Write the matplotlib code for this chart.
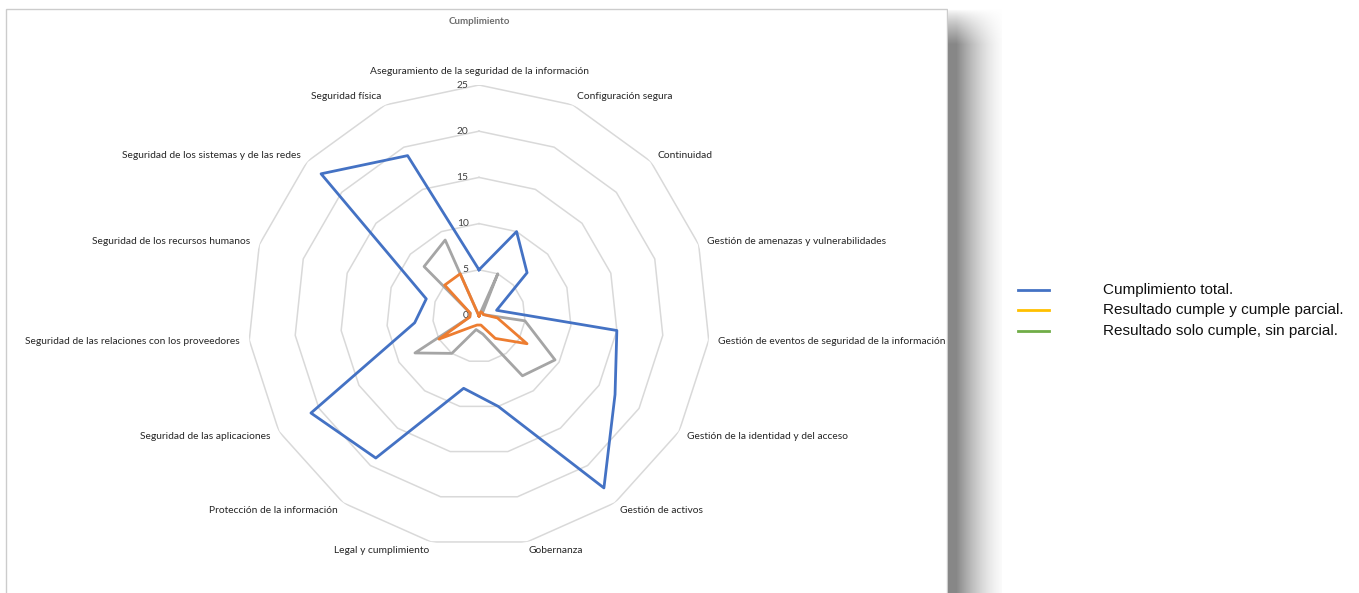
import numpy as np
import matplotlib
matplotlib.use("Agg")
import matplotlib.pyplot as plt
from matplotlib.lines import Line2D
from matplotlib.patches import Rectangle
from matplotlib.transforms import Bbox, TransformedBbox

# categorías del radar (en sentido horario desde arriba)
categorias = [
    "Aseguramiento de la seguridad de la información",
    "Configuración segura",
    "Continuidad",
    "Gestión de amenazas y vulnerabilidades",
    "Gestión de eventos de seguridad de la información",
    "Gestión de la identidad y del acceso",
    "Gestión de activos",
    "Gobernanza",
    "Legal y cumplimiento",
    "Protección de la información",
    "Seguridad de las aplicaciones",
    "Seguridad de las relaciones con los proveedores",
    "Seguridad de los recursos humanos",
    "Seguridad de los sistemas y de las redes",
    "Seguridad física",
]

# series
cumplimiento_total = [5, 10, 7, 2, 15, 17, 23, 10, 8, 19, 21, 7, 6, 23, 19]
cumple_y_parcial = [0, 0.5, 0.5, 0.5, 2, 6, 3, 1, 1, 1.5, 5, 1, 1, 5, 5]
solo_cumple = [0, 5, 0.5, 0.5, 5, 9.5, 8, 2, 1.5, 5, 8, 1, 1, 8, 9]

niveles = [0, 5, 10, 15, 20, 25]

leyenda_textos = [
    "Cumplimiento total.",
    "Resultado cumple y cumple parcial.",
    "Resultado solo cumple, sin parcial.",
]
leyenda_colores = ["#4472C4", "#FFC000", "#70AD47"]

W, H = 1359, 593
fig = plt.figure(figsize=(W / 100, H / 100), dpi=100)
fig.patch.set_facecolor("white")

# marco del área del gráfico
fig.add_artist(Rectangle((6 / W, -0.05), (947 - 6) / W, (H - 9) / H + 0.05,
                         transform=fig.transFigure, facecolor="white",
                         edgecolor="#cccccc", linewidth=1, zorder=0))

# sombra a la derecha del área del gráfico
sh = fig.add_axes([948 / W, 0, 54 / W, (H - 9) / H])
u = np.linspace(0, 1, 54)
v = np.clip(np.linspace(0, 585, 585) / 35.0, 0, 1) ** 0.8
prof = np.clip(1.15 - u, 0, 1) ** 1.7
prof = prof / prof.max()
g = 1 - 0.47 * np.outer(v, prof)
sh.imshow(np.dstack([g, g, g]), aspect="auto", interpolation="bilinear")
sh.axis("off")

# radar
cx, cy, R = 479, 316, 231
ax = fig.add_axes([(cx - R) / W, (H - cy - R) / H, 2 * R / W, 2 * R / H],
                  projection="polar")
ax.set_theta_offset(np.pi / 2)
ax.set_theta_direction(-1)
ax.set_ylim(0, 25)
ax.grid(False)
ax.set_xticks([])
ax.set_yticks([])
ax.spines["polar"].set_visible(False)
ax.patch.set_alpha(0)

n = len(categorias)
ang = np.linspace(0, 2 * np.pi, n, endpoint=False)
ang_c = np.append(ang, ang[0])

for nv in niveles[1:]:
    ax.plot(ang_c, [nv] * (n + 1), color="#d9d9d9", lw=1.1, zorder=1)

ax.plot(ang_c, solo_cumple + solo_cumple[:1], color="#A5A5A5", lw=2, zorder=3)
ax.plot(ang_c, cumple_y_parcial + cumple_y_parcial[:1], color="#ED7D31", lw=2, zorder=4)
ax.plot(ang_c, cumplimiento_total + cumplimiento_total[:1], color="#4472C4", lw=2, zorder=5)

fuente = "Lato"
for nv in niveles:
    ax.annotate(str(nv), (0, nv), xytext=(-7.5, 0), textcoords="offset points",
                ha="right", va="center", fontsize=7.4, color="#404040",
                family=fuente, annotation_clip=False)

caja = TransformedBbox(Bbox([[6 / W, 0], [946 / W, 1]]), fig.transFigure)
for a, nombre in zip(ang, categorias):
    s = np.pi / 2 - a
    c = np.cos(s)
    if c > 0.05:
        ha = "left"
    elif c < -0.05:
        ha = "right"
    else:
        ha = "center"
    va = "bottom" if abs(a) < 1e-6 else "center"
    t = ax.text(a, 26, nombre, ha=ha, va=va, fontsize=7.4, color="#262626",
                family=fuente)
    t.set_clip_on(True)
    t.set_clip_box(caja)

fig.text(479 / W, 1 - 22 / H, "Cumplimiento", ha="center", va="center",
         fontsize=7, fontweight="bold", color="#6e6e6e", family=fuente)

# leyenda
for i, (txt, col) in enumerate(zip(leyenda_textos, leyenda_colores)):
    y = 1 - (290 + 20.3 * i) / H
    fig.add_artist(Line2D([1018 / W, 1049 / W], [y, y], color=col, lw=2,
                          transform=fig.transFigure))
    fig.text(1103 / W, y, txt, ha="left", va="center", fontsize=11,
             color="#111111", family="Liberation Sans")

fig.savefig("out.png", dpi=100)
